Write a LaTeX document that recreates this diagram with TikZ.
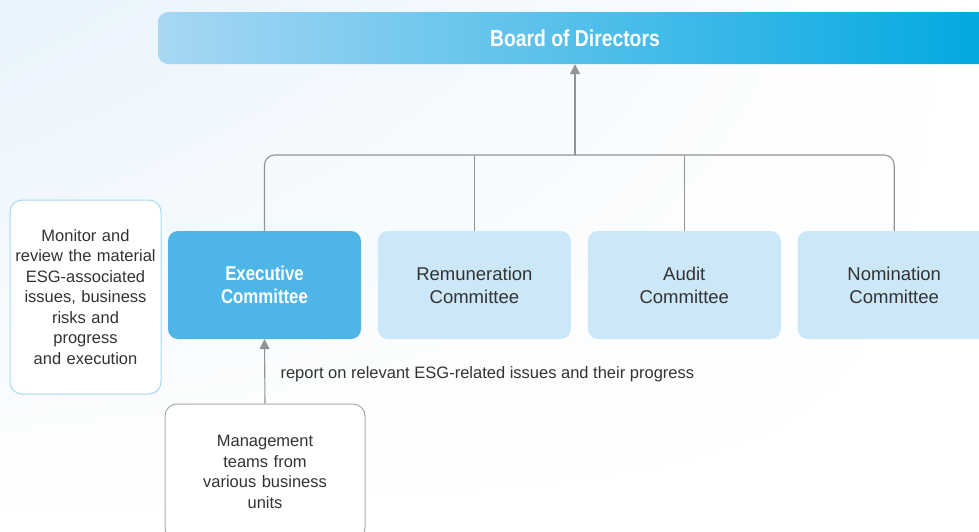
\documentclass[tikz,border=0pt]{standalone}
\usepackage{fontspec}
\setmainfont{Liberation Sans}
\newfontfamily\condfont[FakeStretch=0.84]{Liberation Sans}
\usepackage{xcolor}
\usetikzlibrary{arrows.meta,positioning,shadings}

\definecolor{bgblue}{HTML}{E8F3FC}
\definecolor{boardlight}{HTML}{A8D7F3}
\definecolor{boarddark}{HTML}{00A8E1}
\definecolor{execblue}{HTML}{4DB6E7}
\definecolor{commblue}{HTML}{CCE7F7}
\definecolor{lineblue}{HTML}{A8D8F4}
\definecolor{linegray}{HTML}{939393}
\definecolor{textgray}{HTML}{333333}

\tikzset{
  commbox/.style={rounded corners=10pt, fill=commblue, minimum width=193pt, minimum height=108pt,
    text width=180pt, align=center, text=textgray, font=\fontsize{18.5}{23}\selectfont},
  execbox/.style={commbox, fill=execblue, text=white, font=\condfont\bfseries\fontsize{20}{23}\selectfont},
  notebox/.style={rounded corners=12pt, draw, line width=1pt, fill=white, align=center,
    text=textgray, font=\fontsize{16.5}{20.5}\selectfont},
  conn/.style={draw=linegray, line width=1.1pt},
  arrow/.style={conn, -{Triangle[width=10pt,length=10pt]}, color=linegray}
}

\begin{document}
\begin{tikzpicture}[x=1pt, y=-1pt]
  \useasboundingbox (0,0) rectangle (979,531);
  % background
  \shade[upper left=bgblue, upper right=white, lower left=white, lower right=white]
    (0,0) rectangle (979,531);

  % board
  \node[rounded corners=10pt, left color=boardlight, right color=boarddark, minimum width=834pt,
    minimum height=52pt, text=white, font=\condfont\bfseries\fontsize{23}{26}\selectfont]
    (board) at (575,38) {Board of Directors};

  % committees
  \node[execbox] (exec) at (264.5,285) {Executive\\Committee};
  \node[commbox, right=16.5pt of exec] (rem) {Remuneration\\Committee};
  \node[commbox, right=16.5pt of rem] (aud) {Audit\\Committee};
  \node[commbox, right=16.5pt of aud] (nom) {Nomination\\Committee};

  % side notes
  \node[notebox, draw=lineblue, minimum width=151pt, minimum height=194pt, text width=142pt]
    (monitor) at (85.5,297) {Monitor and\\review the material\\ESG-associated\\issues, business\\risks and\\progress\\and execution};
  \node[notebox, draw=linegray!80, minimum width=200pt, minimum height=136pt, text width=140pt]
    (mgmt) at (265,472) {Management\\teams from\\various business\\units\\[14pt]};

  % connectors
  \coordinate (bus) at (575,155);
  \draw[conn, rounded corners=10pt] (exec.north) |- (bus) -| (nom.north);
  \draw[conn] (rem.north) -- (rem.north |- bus);
  \draw[conn] (aud.north) -- (aud.north |- bus);
  \draw[arrow] (bus) -- (board.south);
  \draw[arrow] (mgmt.north) -- (exec.south);
  \node[anchor=west, text=textgray, font=\fontsize{16.5}{20.5}\selectfont] (report) at (277,374)
    {report on relevant ESG-related issues and their progress};
\end{tikzpicture}
\end{document}
